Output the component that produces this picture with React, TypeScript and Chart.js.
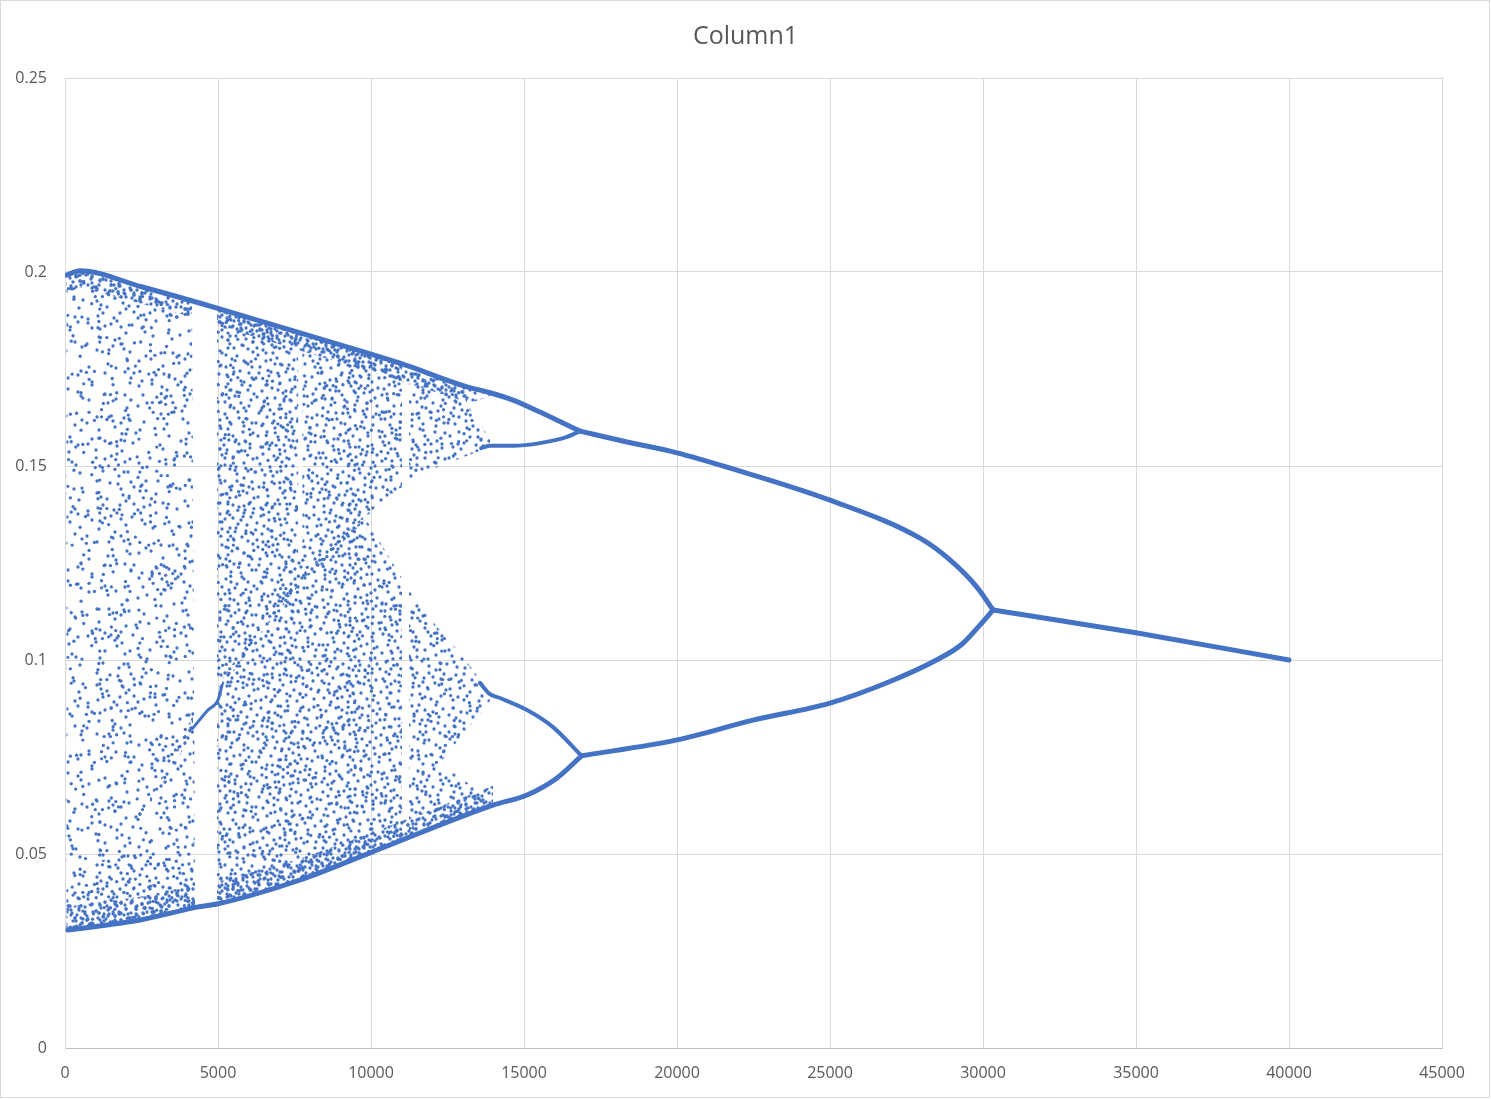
import { useEffect, useRef } from 'react';
import { Chart, registerables } from 'chart.js';

Chart.register(...registerables);

type P = [number, number];

const TITLE = 'Column1';
const X_MIN = 0;
const X_MAX = 45000;
const X_STEP = 5000;
const Y_MIN = 0;
const Y_MAX = 0.25;
const Y_STEP = 0.05;
const Y_TICK_LABELS = ['0', '0.05', '0.1', '0.15', '0.2', '0.25'];

// Upper envelope of the chaotic cloud, continuing as the upper period-4 branch
const TOP_EDGE: P[] = [
  [50, 0.1992], [490, 0.2003], [2500, 0.1962], [4967, 0.1907], [7680, 0.1843],
  [10948, 0.1765], [13137, 0.1704], [13791, 0.1691], [14641, 0.167], [15523, 0.1639],
  [16340, 0.1608], [16830, 0.159],
];
// Lower envelope, ending in the lower period-4 branch
const BOTTOM_EDGE: P[] = [
  [98, 0.0304], [2451, 0.033], [4314, 0.0363], [4967, 0.0371], [7680, 0.0433],
  [9967, 0.0503], [13987, 0.0626], [15098, 0.0652], [16079, 0.0696], [16880, 0.0753],
];
// Period-2 branches
const PERIOD2_UPPER: P[] = [
  [16830, 0.159], [18366, 0.1562], [20000, 0.1534], [21634, 0.1497], [25000, 0.1412],
  [27941, 0.1314], [28920, 0.1258], [29800, 0.1188], [30330, 0.1129],
];
const PERIOD2_LOWER: P[] = [
  [16880, 0.0753], [20000, 0.0794], [22484, 0.0845], [25000, 0.0889], [27000, 0.0946],
  [28480, 0.1], [29300, 0.104], [29900, 0.109], [30330, 0.1129],
];
// Period-1 line
const PERIOD1: P[] = [[30330, 0.1129], [35000, 0.107], [40000, 0.1]];
// Inner period-4 branches
const PERIOD4_UPPER_INNER: P[] = [
  [13600, 0.1546], [13889, 0.1552], [14641, 0.1552], [15523, 0.1559], [16405, 0.1575], [16830, 0.159],
];
const PERIOD4_LOWER_INNER: P[] = [
  [13560, 0.0941], [13889, 0.0912], [14216, 0.0902], [15098, 0.0871], [15948, 0.0827], [16880, 0.0753],
];
// Short track crossing the window near x = 4500
const WINDOW_STREAK: P[] = [[4150, 0.0822], [4673, 0.0871], [5000, 0.0897], [5131, 0.0935]];

// Chaotic regions (outlines)
const CLOUD_A: P[] = [
  [50, 0.1992], [490, 0.2003], [2500, 0.1962], [4150, 0.1926], [4200, 0.12], [4250, 0.0362],
  [2451, 0.033], [98, 0.0304], [50, 0.031],
];
const CLOUD_B: P[] = [
  [4967, 0.1907], [7680, 0.1843], [11013, 0.1763], [11013, 0.1446], [10294, 0.1405],
  [9804, 0.1366], [10294, 0.1304], [11013, 0.121], [11013, 0.0535], [9967, 0.0503],
  [7680, 0.0433], [4967, 0.0371],
];
const CLOUD_C: P[] = [
  [11242, 0.1759], [13137, 0.1704], [13889, 0.1689], [13889, 0.168], [13137, 0.166],
  [13889, 0.157], [13889, 0.1549], [11928, 0.149], [11242, 0.1459], [11242, 0.118],
  [12157, 0.1085], [12909, 0.1018], [13889, 0.0915], [13889, 0.0895], [12255, 0.0735],
  [13889, 0.064], [13987, 0.0626], [11242, 0.0541],
];
// Narrow empty window near x = 7700 (upper part of the cloud)
const GAP_7700: P[] = [[7620, 0.1828], [7760, 0.1825], [7760, 0.127], [7620, 0.127]];
// Denser bands along the envelopes and tracks inside the cloud
const DENSE_TOP_A: P[] = [
  [50, 0.1992], [490, 0.2003], [2500, 0.1962], [4150, 0.1926], [4150, 0.1884],
  [2500, 0.1918], [490, 0.196], [50, 0.1945],
];
const DENSE_TOP_BC: P[] = [
  [4967, 0.1907], [7680, 0.1843], [10948, 0.1765], [13137, 0.1704], [13137, 0.1664],
  [10948, 0.172], [7680, 0.1798], [4967, 0.1862],
];
const DENSE_BOTTOM_A: P[] = [
  [50, 0.031], [98, 0.0304], [2451, 0.033], [4250, 0.0362], [4250, 0.042],
  [2451, 0.039], [98, 0.0365], [50, 0.037],
];
const SEMI_BOTTOM_A: P[] = [
  [50, 0.031], [98, 0.0304], [2451, 0.033], [4250, 0.0362], [4250, 0.053],
  [2451, 0.05], [98, 0.047], [50, 0.047],
];
const DENSE_BOTTOM_BC: P[] = [
  [4967, 0.0371], [7680, 0.0433], [9967, 0.0503], [13987, 0.0626], [13987, 0.0676],
  [9967, 0.0553], [7680, 0.0488], [4967, 0.0428],
];
const TRACK_A: P[] = [
  [2778, 0.0625], [3431, 0.0698], [4183, 0.0828], [4183, 0.0858], [3431, 0.0728], [2778, 0.0655],
];
const TRACK_B: P[] = [
  [5131, 0.0928], [6400, 0.1068], [7680, 0.1196], [9804, 0.136], [9804, 0.1374],
  [7680, 0.1216], [6400, 0.109], [5131, 0.0952],
];

// Speckle texture (style only): hand-placed dots in a 64 x 64 cell,
// re-oriented per cell of a 3 x 3 tile to avoid visible repetition.
const DOTS: P[] = [
  [5, 3], [19, 7], [31, 2], [44, 9], [58, 4], [12, 15], [27, 18], [38, 13], [51, 17], [62, 11],
  [3, 24], [16, 29], [24, 23], [35, 27], [47, 25], [56, 30], [9, 36], [21, 39], [30, 33], [42, 38],
  [53, 41], [61, 35], [4, 47], [14, 44], [26, 49], [37, 45], [48, 52], [59, 47], [7, 57], [18, 55],
  [29, 60], [40, 56], [52, 61], [63, 58], [10, 6], [35, 21], [22, 11], [46, 33], [2, 14], [57, 22],
  [13, 62], [33, 52], [44, 44], [25, 40], [8, 28], [50, 8], [39, 63], [60, 53], [17, 35], [28, 29],
  [55, 14], [41, 2], [6, 41], [34, 7], [20, 51], [47, 19], [62, 28], [11, 21], [30, 45], [53, 33],
  [24, 57], [43, 27], [1, 53], [16, 3],
];
const TABLE_A = [0, 5, 3, 6, 1, 7, 2, 4, 5];
const TABLE_B = [6, 2, 7, 0, 4, 1, 5, 3, 0];
const TABLE_C = [3, 6, 0, 5, 2, 4, 7, 1, 6];
const DOT_R = 1.65;

const BLUE = '#4472C4';
const TEXT = '#595959';
const GRID = '#d9d9d9';
const FONT = "'Open Sans', sans-serif";

type Layer = { dots: P[]; table: number[]; shift: P };

function orient(t: number, [x, y]: P): P {
  const a = t & 1 ? 63 - x : x;
  const b = t & 2 ? 63 - y : y;
  return t & 4 ? [b, a] : [a, b];
}

function makePattern(cell: number, layers: Layer[], r: number): CanvasPattern | string {
  const big = cell * 3;
  const c = document.createElement('canvas');
  c.width = big;
  c.height = big;
  const g = c.getContext('2d');
  if (!g) return BLUE;
  g.fillStyle = BLUE;
  const k = cell / 64;
  for (const layer of layers) {
    for (let s = 0; s < 9; s++) {
      const t = layer.table[s];
      const cx = (s % 3) * cell;
      const cy = Math.floor(s / 3) * cell;
      for (const d of layer.dots) {
        const [tx, ty] = orient(t, d);
        const px = cx + ((tx + layer.shift[0]) % 64) * k;
        const py = cy + ((ty + layer.shift[1]) % 64) * k;
        for (const dx of [-big, 0, big]) {
          for (const dy of [-big, 0, big]) {
            g.beginPath();
            g.arc(px + dx, py + dy, r, 0, Math.PI * 2);
            g.fill();
          }
        }
      }
    }
  }
  return g.createPattern(c, 'repeat') || BLUE;
}

const xy = (pts: P[]) => pts.map(([x, y]) => ({ x, y }));

export default function App() {
  const ref = useRef<HTMLCanvasElement | null>(null);

  useEffect(() => {
    if (!ref.current) return;
    const half = DOTS.filter((_, i) => i % 2 === 0);
    const otherHalf = DOTS.filter((_, i) => i % 2 === 1);
    const third = DOTS.filter((_, i) => i % 3 === 1);
    const sparse1 = makePattern(64, [{ dots: half, table: TABLE_A, shift: [0, 0] }], DOT_R);
    const sparse2 = makePattern(57, [{ dots: third, table: TABLE_B, shift: [23, 41] }], DOT_R);
    const medium1 = makePattern(64, [{ dots: DOTS, table: TABLE_C, shift: [0, 0] }], DOT_R);
    const medium2 = makePattern(57, [{ dots: otherHalf, table: TABLE_A, shift: [37, 19] }], DOT_R);
    const dense = makePattern(64, [
      { dots: DOTS, table: TABLE_A, shift: [0, 0] },
      { dots: DOTS, table: TABLE_B, shift: [21, 13] },
      { dots: DOTS, table: TABLE_C, shift: [42, 29] },
    ], DOT_R);
    const track = makePattern(57, [
      { dots: DOTS, table: TABLE_B, shift: [0, 0] },
      { dots: half, table: TABLE_C, shift: [30, 17] },
    ], DOT_R);

    const poly = (pts: P[], bg: CanvasPattern | string, order: number) => ({
      data: xy(pts),
      fill: 'shape' as const,
      backgroundColor: bg,
      borderColor: 'transparent',
      borderWidth: 0,
      pointRadius: 0,
      tension: 0,
      order,
    });
    const line = (pts: P[], width: number) => ({
      data: xy(pts),
      fill: false,
      borderColor: BLUE,
      borderWidth: width,
      borderCapStyle: 'round' as const,
      borderJoinStyle: 'round' as const,
      pointRadius: 0,
      cubicInterpolationMode: 'monotone' as const,
      order: 1,
    });

    const decorPlugin = {
      id: 'decor',
      afterDraw(chart: Chart) {
        const { ctx } = chart;
        ctx.save();
        ctx.strokeStyle = GRID;
        ctx.lineWidth = 1;
        ctx.strokeRect(0.5, 0.5, chart.width - 2, chart.height - 2);
        ctx.fillStyle = TEXT;
        ctx.font = `25px ${FONT}`;
        ctx.textAlign = 'center';
        ctx.textBaseline = 'middle';
        ctx.fillText(TITLE, chart.width / 2, 37);
        ctx.restore();
      },
    };

    const chart = new Chart(ref.current, {
      type: 'line',
      data: {
        datasets: [
          poly(CLOUD_A, sparse1, 5),
          poly(CLOUD_A, sparse2, 5),
          poly(CLOUD_B, medium1, 5),
          poly(CLOUD_B, medium2, 5),
          poly(CLOUD_C, medium1, 5),
          poly(CLOUD_C, sparse2, 5),
          poly(GAP_7700, '#ffffff', 4),
          poly(SEMI_BOTTOM_A, medium2, 3),
          poly(DENSE_TOP_A, dense, 2),
          poly(DENSE_TOP_BC, dense, 2),
          poly(DENSE_BOTTOM_A, dense, 2),
          poly(DENSE_BOTTOM_BC, dense, 2),
          poly(TRACK_A, track, 2),
          poly(TRACK_B, track, 2),
          line(TOP_EDGE, 5),
          line(BOTTOM_EDGE, 5),
          line(PERIOD2_UPPER, 5),
          line(PERIOD2_LOWER, 5),
          line(PERIOD1, 5),
          line(PERIOD4_UPPER_INNER, 4),
          line(PERIOD4_LOWER_INNER, 4),
          line(WINDOW_STREAK, 3),
        ] as any,
      },
      options: {
        animation: false,
        responsive: false,
        maintainAspectRatio: false,
        layout: { padding: { left: 0, right: 49, top: 78, bottom: 0 } },
        plugins: {
          legend: { display: false },
          tooltip: { enabled: false },
          title: { display: false },
        },
        scales: {
          x: {
            type: 'linear',
            min: X_MIN,
            max: X_MAX,
            ticks: {
              stepSize: X_STEP,
              callback: (v: any) => String(v),
              color: TEXT,
              font: { family: FONT, size: 16 },
              padding: 16,
              maxRotation: 0,
              autoSkip: false,
            },
            grid: { color: GRID, drawTicks: false },
            border: { color: '#bfbfbf' },
            afterFit: (s: any) => { s.height = 51; },
          },
          y: {
            min: Y_MIN,
            max: Y_MAX,
            ticks: {
              stepSize: Y_STEP,
              callback: (_v: any, i: number) => Y_TICK_LABELS[i],
              color: TEXT,
              font: { family: FONT, size: 16 },
              padding: 18,
            },
            grid: { color: GRID, drawTicks: false },
            border: { color: GRID },
            afterFit: (s: any) => { s.width = 65; },
          },
        },
      } as any,
      plugins: [decorPlugin],
    });
    return () => chart.destroy();
  }, []);

  return (
    <div style={{ position: 'fixed', left: 0, top: 0, width: 1491, height: 1099, background: '#fff' }}>
      <canvas ref={ref} width={1491} height={1099} style={{ display: 'block' }} />
    </div>
  );
}
